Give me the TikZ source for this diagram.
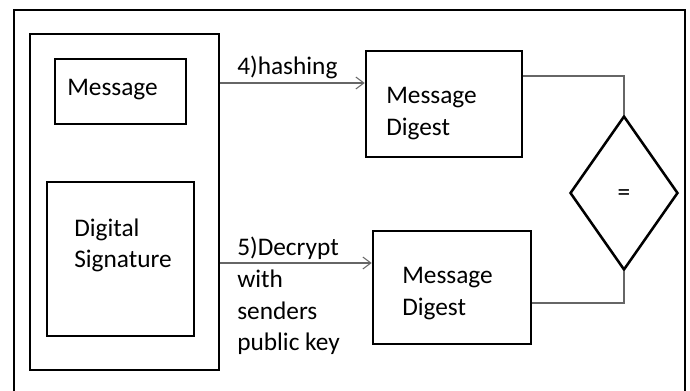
\documentclass[tikz,border=0pt]{standalone}
\usepackage{fontspec}
\setmainfont{Carlito}
\usetikzlibrary{shapes.geometric,arrows.meta}
\begin{document}
\begin{tikzpicture}[x=0.75pt,y=-0.75pt,
  box/.style={draw, line width=1.9pt, inner sep=0pt},
  lbl/.style={anchor=west, inner sep=0pt, align=left, font=\fontsize{19}{23.8}\selectfont},
  conn/.style={draw=black!60, line width=0.8pt},
  arr/.style={conn, -{Straight Barb[length=6pt,width=9pt]}}]
\useasboundingbox (0,0) rectangle (690,390);
% outer frame (bottom cut off)
\draw[line width=2.2pt] (14,396) -- (14,10) -- (685,10) -- (685,396);
% boxes
\node[box, minimum width=141.75pt, minimum height=252pt] (cont) at (124.5,202) {};
\node[box, minimum width=98.25pt, minimum height=48.75pt] (msg) at (120.5,91.5) {};
\node[box, minimum width=110.25pt, minimum height=115.5pt] (ds) at (120.5,259) {};
\node[box, minimum width=117pt, minimum height=79.5pt] (tmd) at (444,104) {};
\node[box, minimum width=118.5pt, minimum height=84.75pt] (bmd) at (452,287.5) {};
\node[box, shape=diamond, minimum width=81pt, minimum height=115.5pt] (eq) at (624,193) {};
% texts
\node[lbl] (tmsg) at (67,90) {Message};
\node[lbl] (tds) at (74,245.5) {Digital\\Signature};
\node[lbl] (th) at (237,67) {4)hashing};
\node[lbl] (td) at (237,296) {5)Decrypt\\with\\senders\\public key};
\node[lbl] (ttmd) at (386,113.5) {Message\\Digest};
\node[lbl] (tbmd) at (402,293.5) {Message\\Digest};
\node[inner sep=0pt, font=\fontsize{19}{23.8}\selectfont] (teq) at (624,195) {=};
% connectors
\coordinate (ya) at (0,83);
\coordinate (yb) at (0,263);
\coordinate (yc) at (0,76);
\coordinate (yd) at (0,303);
\draw[arr] (cont.east |- ya) -- (tmd.west |- ya);
\draw[arr] (cont.east |- yb) -- (bmd.west |- yb);
\draw[conn] (tmd.east |- yc) -| (eq.north);
\draw[conn] (bmd.east |- yd) -| (eq.south);
\end{tikzpicture}
\end{document}
